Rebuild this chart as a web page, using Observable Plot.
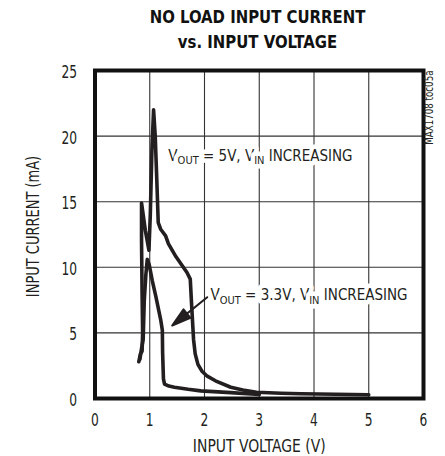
<!DOCTYPE html>
<html><head><meta charset="utf-8">
<script src="https://cdn.jsdelivr.net/npm/d3@7"></script>
<script src="https://cdn.jsdelivr.net/npm/@observablehq/plot@0.6"></script>
<style>
html,body{margin:0;padding:0;background:#fff;}
#wrap{position:relative;width:445px;height:456px;overflow:hidden;background:#fff;}
#title{position:absolute;left:70px;top:0;width:375px;height:52px;box-sizing:border-box;padding-top:4px;text-align:center;font-family:'DejaVu Sans Condensed','DejaVu Sans',sans-serif;font-weight:bold;font-size:18px;line-height:25px;color:#111;transform:scaleX(0.92);transform-origin:50% 0;}
#chart{position:absolute;left:0;top:52px;}
</style></head><body>
<div id="wrap"><div id="title">NO LOAD INPUT CURRENT<br>vs. INPUT VOLTAGE</div><div id="chart"></div></div>
<script>
// ---- data ----
const voltageTicks = [0, 1, 2, 3, 4, 5, 6];
const currentTicks = [0, 5, 10, 15, 20, 25];
const gridVoltages = [1, 2, 3, 4, 5];
const gridCurrents = [5, 10, 15, 20];

// VOUT = 5V, VIN increasing
const vin5 = [0.80, 0.83, 0.86, 0.87, 0.86, 0.85, 0.85, 0.88, 0.92, 0.955, 0.985, 1.01, 1.04, 1.07, 1.10, 1.13, 1.155, 1.20, 1.29, 1.34, 1.48, 1.68, 1.74, 1.76, 1.78, 1.80, 1.83, 1.88, 1.95, 2.05, 2.20, 2.48, 2.70, 2.95, 3.40, 3.76, 4.40, 5.00];
const iin5 = [2.8, 3.4, 3.6, 5.0, 8.0, 12.0, 14.9, 14.0, 12.8, 12.0, 11.3, 14.0, 19.0, 22.0, 20.0, 16.5, 13.4, 12.9, 12.4, 11.8, 10.8, 9.6, 9.1, 7.5, 6.0, 4.5, 3.4, 2.6, 2.1, 1.7, 1.35, 0.86, 0.65, 0.48, 0.40, 0.36, 0.32, 0.29];

// VOUT = 3.3V, VIN increasing
const vin33 = [0.82, 0.85, 0.88, 0.90, 0.93, 0.955, 0.99, 1.045, 1.11, 1.17, 1.20, 1.23, 1.235, 1.25, 1.27, 1.35, 1.45, 1.70, 1.93, 2.48, 3.00];
const iin33 = [3.0, 3.8, 4.5, 7.5, 9.5, 10.6, 10.2, 9.0, 7.8, 6.6, 6.0, 5.2, 3.5, 1.5, 1.1, 0.95, 0.86, 0.70, 0.58, 0.45, 0.30];

const noteText = ["VOUT = 5V, VIN INCREASING", "VOUT = 3.3V, VIN INCREASING"];
const noteV = [1.34, 2.11];
const noteI = [18.5, 7.85];

const arrowFromV = [2.05], arrowFromI = [7.72];
const arrowToV = [1.41], arrowToI = [5.56];

const sideNote = "MAX1708 toc05a";
const xLabel = "INPUT VOLTAGE (V)";
const yLabel = "INPUT CURRENT (mA)";

// ---- chart ----
const W = 445, H = 404, ML = 94.5, MR = 22, MT = 18, MB = 58;
const ink = "#231f20";
const font = "'DejaVu Sans Condensed','DejaVu Sans',sans-serif";

const xs = Plot.scale({x: {domain: [0, 6], range: [ML, W - MR]}});
const ys = Plot.scale({y: {domain: [0, 25], range: [H - MB, MT]}});
const adx = xs.apply(arrowToV[0]) - xs.apply(arrowFromV[0]);
const ady = ys.apply(arrowToI[0]) - ys.apply(arrowFromI[0]);
const arrowLen = Math.hypot(adx, ady);
const arrowRot = Math.atan2(adx, -ady) * 180 / Math.PI;

const filledArrow = {
  draw(context, l, r) {
    const h = 19;
    context.moveTo(0, 0);
    context.lineTo(0, -(l - h + 2));
    context.moveTo(-r, -(l - h));
    context.lineTo(0, -l);
    context.lineTo(r, -(l - h));
    context.closePath();
  }
};

const svg = Plot.plot({
  width: W, height: H,
  marginLeft: ML, marginRight: MR, marginTop: MT, marginBottom: MB,
  style: {fontFamily: font, fontSize: "17px", color: ink, background: "#fff"},
  x: {domain: [0, 6]},
  y: {domain: [0, 25]},
  marks: [
    Plot.gridX(gridVoltages, {stroke: "#333", strokeOpacity: 1, strokeWidth: 1.1}),
    Plot.gridY(gridCurrents, {stroke: "#333", strokeOpacity: 1, strokeWidth: 1.1}),
    Plot.text(noteText, {x: noteV, y: noteI, text: d => d, textAnchor: "start", lineAnchor: "middle",
      fill: ink, stroke: "#fff", strokeWidth: 9, paintOrder: "stroke", fontSize: 15, className: "note"}),
    Plot.line(vin33, {x: vin33, y: iin33, stroke: ink, strokeWidth: 3.6, strokeLinejoin: "round", strokeLinecap: "round"}),
    Plot.line(vin5, {x: vin5, y: iin5, stroke: ink, strokeWidth: 3.6, strokeLinejoin: "round", strokeLinecap: "round"}),
    Plot.vector(arrowFromV, {x: arrowFromV, y: arrowFromI, length: arrowLen, rotate: arrowRot, anchor: "start",
      shape: filledArrow, r: 5.5, stroke: ink, fill: ink, strokeWidth: 2}),
    Plot.frame({stroke: "#111", strokeWidth: 4}),
    Plot.axisX(voltageTicks, {tickSize: 0, tickPadding: 15, label: null, fontSize: 17, className: "xticks"}),
    Plot.axisY(currentTicks, {tickSize: 0, tickPadding: 18, label: null, fontSize: 17, dy: 2, className: "yticks"}),
    Plot.text([xLabel], {frameAnchor: "bottom", dy: 48.5, lineAnchor: "middle", text: d => d, fontSize: 17, fill: ink, className: "xlab"}),
    Plot.text([yLabel], {frameAnchor: "left", dx: -61.5, dy: -8, rotate: -90, lineAnchor: "middle", textAnchor: "middle", text: d => d, fontSize: 17, fill: ink, className: "ylab"}),
    Plot.text([sideNote], {frameAnchor: "top-right", dx: 5.5, rotate: -90, textAnchor: "end", lineAnchor: "middle", text: d => d, fontSize: 11.5, fill: ink, className: "side"})
  ]
});

// subscripts for V_OUT and V_IN
const NS = "http://www.w3.org/2000/svg";
d3.select(svg).selectAll("text").each(function() {
  const t = this.textContent;
  if (!noteText.includes(t)) return;
  const re = /V(OUT|IN)\b/g;
  const frags = [];
  let last = 0, m;
  while ((m = re.exec(t))) {
    frags.push({s: t.slice(last, m.index) + "V", sub: false});
    frags.push({s: m[1], sub: true});
    last = re.lastIndex;
  }
  frags.push({s: t.slice(last), sub: false});
  this.textContent = "";
  let cur = 0;
  for (const f of frags) {
    const ts = document.createElementNS(NS, "tspan");
    ts.textContent = f.s;
    const target = f.sub ? 3.5 : 0;
    if (target !== cur) ts.setAttribute("dy", target - cur);
    cur = target;
    if (f.sub) ts.setAttribute("font-size", "11px");
    this.appendChild(ts);
  }
});

document.getElementById("chart").appendChild(svg);

// narrow the type to mimic the condensed face of the original
function condense(sel, k) {
  d3.select(svg).selectAll(sel).each(function() {
    const L = this.getComputedTextLength();
    if (L > 0) {
      this.setAttribute("textLength", (L * k).toFixed(2));
      this.setAttribute("lengthAdjust", "spacingAndGlyphs");
    }
  });
}
condense(".xticks text", 0.8);
condense(".yticks text", 0.8);
condense(".xlab text", 0.91);
condense(".ylab text", 0.85);
condense(".side text", 0.84);
</script>
</body></html>
